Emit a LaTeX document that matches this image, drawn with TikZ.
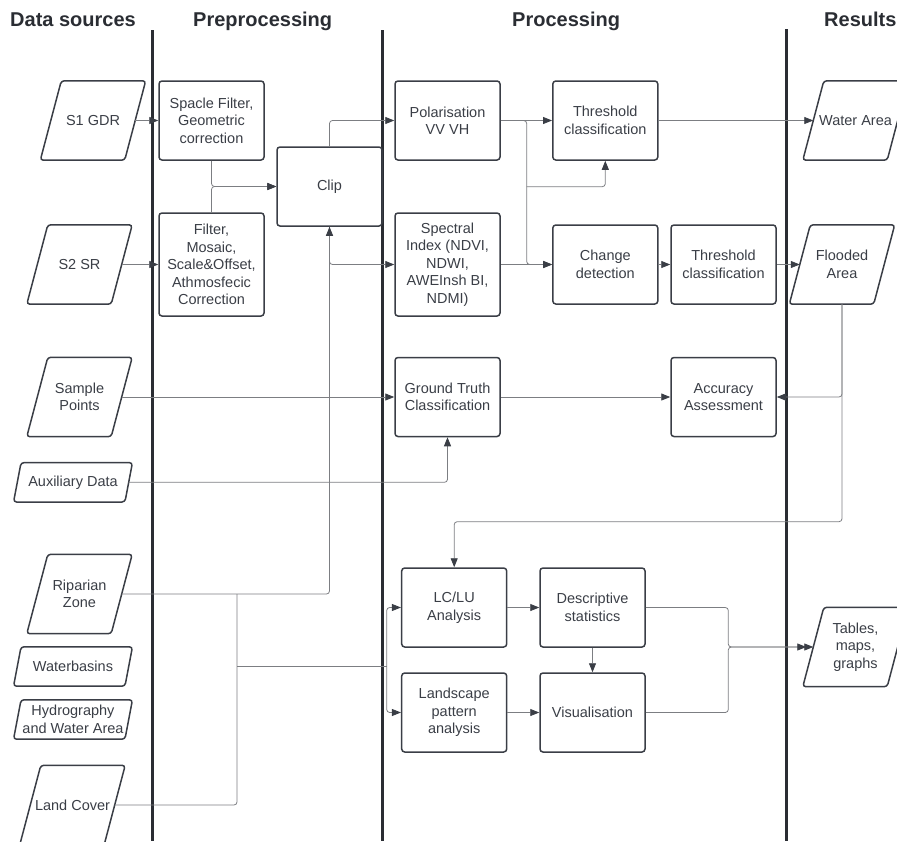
\documentclass[tikz,border=0pt]{standalone}
\usepackage{fontspec}
\setmainfont{Liberation Sans}
\usetikzlibrary{arrows.meta}
\definecolor{ink}{HTML}{3A3E46}
\definecolor{wirec}{HTML}{7C7E82}
\definecolor{lanec}{HTML}{2A2D33}

\begin{document}
\begin{tikzpicture}[x=1pt, y=-1pt,
                    font=\fontsize{14.5}{17.5}\selectfont, text=ink,
                    proc/.style={draw=ink, line width=1.5pt, rounded corners=3pt,
                                 minimum width=105pt, minimum height=79pt, align=center, inner sep=2pt},
                    data/.style={minimum width=84pt, minimum height=79pt, align=center, inner sep=1pt,
                                 append after command={\pgfextra{\draw[draw=ink, line width=1.5pt, rounded corners=3pt]
                                   ([xshift=-10.5pt]\tikzlastnode.south west) -- ([xshift=10.5pt]\tikzlastnode.north west)
                                   -- ([xshift=10.5pt]\tikzlastnode.north east) -- ([xshift=-10.5pt]\tikzlastnode.south east) -- cycle;}}},
                    slimdata/.style={minimum width=111pt, minimum height=39pt, align=center, inner sep=1pt,
                                 append after command={\pgfextra{\draw[draw=ink, line width=1.5pt, rounded corners=3pt]
                                   ([xshift=-3.75pt]\tikzlastnode.south west) -- ([xshift=3.75pt]\tikzlastnode.north west)
                                   -- ([xshift=3.75pt]\tikzlastnode.north east) -- ([xshift=-3.75pt]\tikzlastnode.south east) -- cycle;}}},
                    wire/.style={draw=wirec, line width=0.8pt, rounded corners=3pt},
                    conn/.style={wire, -{Triangle[length=9pt,width=7pt,color=ink]}},
                    lane/.style={draw=lanec, line width=3pt},
                    head/.style={font=\fontsize{20}{24}\selectfont\bfseries, text=lanec, anchor=base west, inner sep=0pt}]
                \useasboundingbox (0,0) rectangle (897,841);

                % swimlanes
                \draw[lane] (152,30) -- (152,841);
                \draw[lane] (382,30) -- (382,841);
                \draw[lane] (786,29) -- (786,841);
                \node (h1) [head] at (10,26) {Data sources};
                \node (h2) [head] at (193,26) {Preprocessing};
                \node (h3) [head] at (512,26) {Processing};
                \node (h4) [head] at (824,26) {Results};

                % data sources
                \node (s1) [data] at (93,120.5) {S1 GDR};
                \node (s2) [data] at (79.5,264.5) {S2 SR};
                \node (smp) [data] at (79.5,397) {Sample\\Points};
                \node (aux) [slimdata] at (73,482.3) {Auxiliary Data};
                \node (rip) [data] at (79.5,594) {Riparian\\Zone};
                \node (wb) [slimdata] at (73,666.5) {Waterbasins};
                \node (hyd) [slimdata] at (73,719.5) {Hydrography\\and Water Area};
                \node (lc) [data] at (72.5,805) {Land Cover};

                % preprocessing
                \node (spf) [proc] at (211.5,120.5) {Spacle Filter,\\Geometric\\correction};
                \node (flt) [proc, minimum height=103pt] at (211.5,264.5) {Filter,\\Mosaic,\\Scale\&Offset,\\Athmosfecic\\Correction};
                \node (clip) [proc] at (329.5,186.5) {Clip};

                % processing
                \node (pol) [proc] at (447.5,120.5) {Polarisation\\VV VH};
                \node (spi) [proc, minimum height=103pt] at (447.5,264.5) {Spectral\\Index (NDVI,\\NDWI,\\AWEInsh BI,\\NDMI)};
                \node (thra) [proc] at (605.3,120.5) {Threshold\\classification};
                \node (chg) [proc] at (605.3,264.5) {Change\\detection};
                \node (thrb) [proc] at (723.5,264.5) {Threshold\\classification};
                \node (gt) [proc] at (447.5,397) {Ground Truth\\Classification};
                \node (acc) [proc] at (723.5,397) {Accuracy\\Assessment};
                \node (lclu) [proc] at (454.2,607.5) {LC/LU\\Analysis};
                \node (lsp) [proc] at (454.2,712.5) {Landscape\\pattern\\analysis};
                \node (desc) [proc] at (592.5,607.5) {Descriptive\\statistics};
                \node (vis) [proc] at (592.5,712.5) {Visualisation};

                % results
                \node (water) [data] at (855.5,120.5) {Water Area};
                \node (flood) [data] at (842,264.5) {Flooded\\Area};
                \node (tab) [data] at (855.5,647) {Tables,\\maps,\\graphs};

                % junctions
                \coordinate (jr) at (237,594);
                \coordinate (jm) at (237,666.7);
                \coordinate (fk) at (386.7,666.7);
                \coordinate (sp) at (526.7,186.7);
                \coordinate (jf) at (842,521.7);
                \coordinate (jt) at (728.3,647);

                \draw[conn] (s1.east) -- (spf.west);
                \draw[conn] (s2.east) -- (flt.west);
                \draw[conn] (spf.south) |- (clip.west);
                \draw[conn] (flt.north) |- (clip.west);
                \draw[conn] (clip.north) |- (pol.west);
                \draw[conn] (clip.south) |- (spi.west);
                \draw[conn] (rip.east) -| (clip.south);
                \draw[wire] (lc.east) -| (jr);
                \draw[wire] (jm) -- (fk);
                \draw[conn] (fk) |- (lclu.west);
                \draw[conn] (fk) |- (lsp.west);

                \draw[conn] (pol.east) -- (thra.west);
                \draw[conn] (pol.east) -| (sp |- chg.west) -- (chg.west);
                \draw[conn] (spi.east) -- (chg.west);
                \draw[conn] (sp) -| (thra.south);
                \draw[conn] (chg.east) -- (thrb.west);
                \draw[conn] (thrb.east) -- (flood.west);
                \draw[conn] (thra.east) -- (water.west);

                \draw[conn] (smp.east) -- (gt.west);
                \draw[conn] (aux.east) -| (gt.south);
                \draw[conn] (gt.east) -- (acc.west);
                \draw[conn] (flood.south) |- (acc.east);
                \draw[conn] (flood.south) -- (jf) -| (lclu.north);

                \draw[conn] (lclu.east) -- (desc.west);
                \draw[conn] (lsp.east) -- (vis.west);
                \draw[conn] (desc.south) -- (vis.north);
                \draw[conn] (desc.east) -| (jt) -- (tab.west);
                \draw[conn, shorten >=7pt] (vis.east) -| (jt) -- (tab.west);
            \end{tikzpicture}
\end{document}
